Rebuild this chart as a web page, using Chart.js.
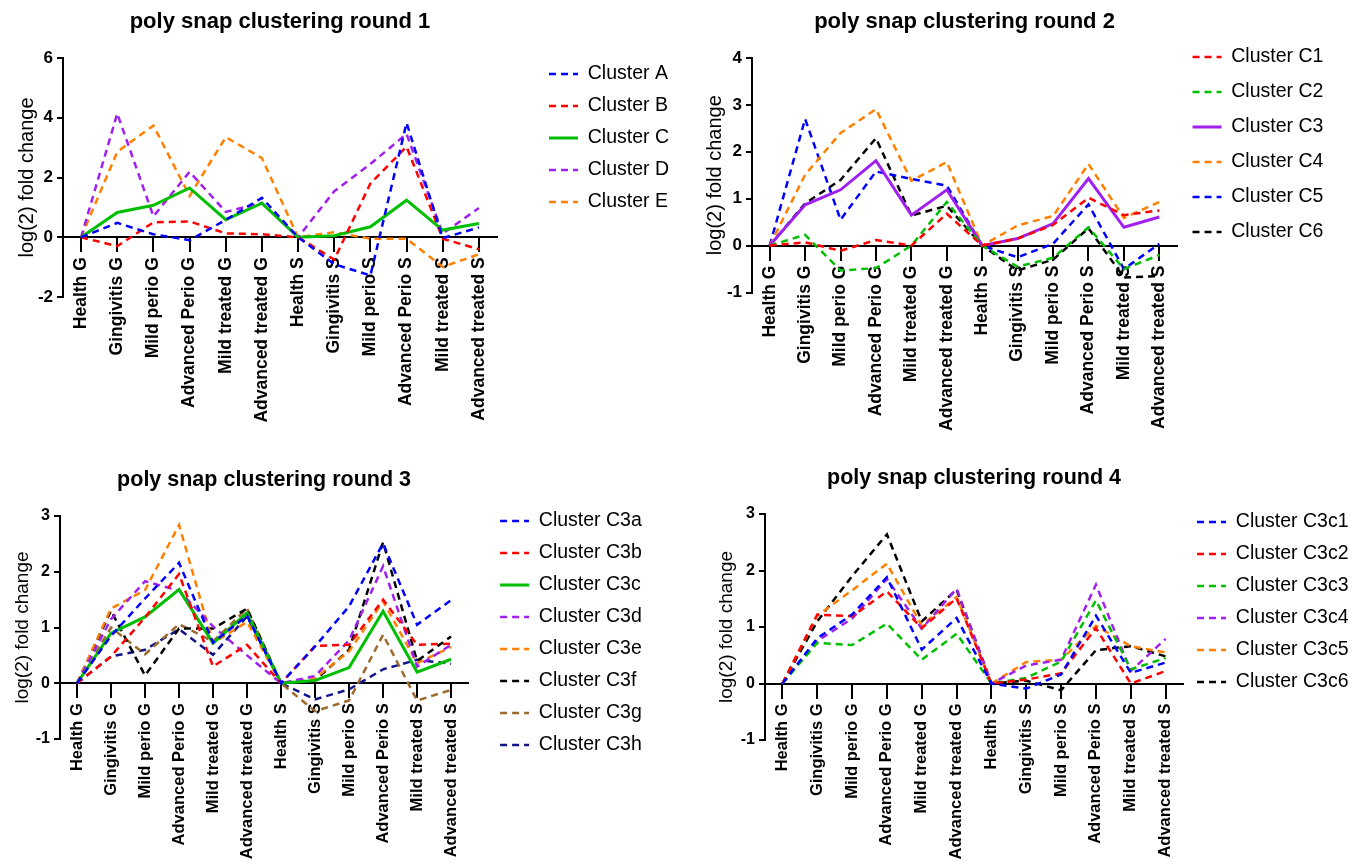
<!DOCTYPE html>
<html>
<head>
<meta charset="utf-8">
<title>poly snap clustering</title>
<script src="https://cdn.jsdelivr.net/npm/chart.js@4.4.1/dist/chart.umd.min.js"></script>
<style>
  html, body { margin: 0; padding: 0; background: #fff; }
  #page { position: relative; width: 1367px; height: 868px; overflow: hidden; }
  .panel { position: absolute; }
</style>
</head>
<body>
<div id="page">
  <div class="panel" style="left:0px;top:0px;width:690px;height:440px"><canvas id="round1"></canvas></div>
  <div class="panel" style="left:690px;top:0px;width:677px;height:440px"><canvas id="round2"></canvas></div>
  <div class="panel" style="left:0px;top:440px;width:690px;height:428px"><canvas id="round3"></canvas></div>
  <div class="panel" style="left:690px;top:440px;width:677px;height:428px"><canvas id="round4"></canvas></div>
</div>
<script>
// --- Data ---
const categories = ['Health G', 'Gingivitis G', 'Mild perio G', 'Advanced Perio G', 'Mild treated G', 'Advanced treated G',
                    'Health S', 'Gingivitis S', 'Mild perio S', 'Advanced Perio S', 'Mild treated S', 'Advanced treated S'];

// round 1
const round1Names = ['Cluster A', 'Cluster B', 'Cluster C', 'Cluster D', 'Cluster E'];
const clusterA = [0, 0.48, 0.1, -0.1, 0.58, 1.32, 0, -0.9, -1.28, 3.83, -0.03, 0.33];
const clusterB = [0, -0.3, 0.5, 0.53, 0.13, 0.1, 0, -0.75, 1.8, 3.03, -0.05, -0.4];
const clusterC = [0, 0.83, 1.07, 1.65, 0.59, 1.14, 0, 0.05, 0.35, 1.24, 0.24, 0.46];
const clusterD = [0, 4.14, 0.7, 2.19, 0.85, 1.15, 0, 1.54, 2.45, 3.46, 0.12, 0.98];
const clusterE = [0, 2.86, 3.74, 1.38, 3.35, 2.65, 0, 0.17, -0.05, -0.05, -0.99, -0.57];

// round 2
const round2Names = ['Cluster C1', 'Cluster C2', 'Cluster C3', 'Cluster C4', 'Cluster C5', 'Cluster C6'];
const clusterC1 = [0, 0.07, -0.11, 0.12, 0, 0.68, 0, 0.15, 0.44, 1.02, 0.65, 0.75];
const clusterC2 = [0, 0.23, -0.53, -0.48, 0, 0.93, 0, -0.45, -0.26, 0.39, -0.5, -0.2];
const clusterC3 = [0, 0.87, 1.19, 1.81, 0.65, 1.19, 0, 0.15, 0.47, 1.43, 0.39, 0.61];
const clusterC4 = [0, 1.51, 2.4, 2.91, 1.38, 1.78, 0, 0.43, 0.63, 1.74, 0.59, 0.93];
const clusterC5 = [0, 2.7, 0.55, 1.58, 1.42, 1.28, 0, -0.25, 0.04, 0.88, -0.5, 0.04];
const clusterC6 = [0, 0.9, 1.4, 2.29, 0.64, 0.85, 0, -0.53, -0.3, 0.37, -0.68, -0.65];

// round 3
const round3Names = ['Cluster C3a', 'Cluster C3b', 'Cluster C3c', 'Cluster C3d', 'Cluster C3e', 'Cluster C3f', 'Cluster C3g', 'Cluster C3h'];
const clusterC3a = [0, 0.85, 1.52, 2.16, 0.73, 1.21, 0, 0.66, 1.38, 2.51, 1.05, 1.49];
const clusterC3b = [0, 0.48, 1.18, 1.96, 0.3, 0.69, 0, 0.67, 0.69, 1.5, 0.69, 0.71];
const clusterC3c = [0, 0.9, 1.19, 1.68, 0.72, 1.26, 0, 0.05, 0.28, 1.29, 0.2, 0.43];
const clusterC3d = [0, 1.15, 1.83, 1.66, 1.02, 0.5, 0, 0.13, 0.77, 2.1, 0.3, 0.69];
const clusterC3e = [0, 1.34, 1.67, 2.84, 0.72, 1.1, 0, 0.09, 0.57, 1.47, 0.36, 0.65];
const clusterC3f = [0, 1.3, 0.14, 0.98, 0.98, 1.34, 0, 0.05, 0.6, 2.53, 0.4, 0.84];
const clusterC3g = [0, 1.0, 0.52, 1.06, 0.75, 1.34, 0, -0.5, -0.31, 0.87, -0.31, -0.12];
const clusterC3h = [0, 0.48, 0.6, 0.97, 0.51, 1.2, 0, -0.29, -0.11, 0.25, 0.42, 0.35];

// round 4
const round4Names = ['Cluster C3c1', 'Cluster C3c2', 'Cluster C3c3', 'Cluster C3c4', 'Cluster C3c5', 'Cluster C3c6'];
const clusterC3c1 = [0, 0.8, 1.22, 1.88, 0.6, 1.16, 0, -0.09, 0.16, 1.2, 0.19, 0.37];
const clusterC3c2 = [0, 1.22, 1.19, 1.63, 0.98, 1.51, 0, 0.07, 0.18, 0.98, 0, 0.22];
const clusterC3c3 = [0, 0.72, 0.68, 1.06, 0.42, 0.88, 0, 0.1, 0.39, 1.47, 0.25, 0.45];
const clusterC3c4 = [0, 0.75, 1.15, 1.85, 0.97, 1.68, 0, 0.32, 0.42, 1.75, 0.22, 0.79];
const clusterC3c5 = [0, 1.2, 1.65, 2.12, 1.03, 1.53, 0, 0.38, 0.42, 1.02, 0.66, 0.55];
const clusterC3c6 = [0, 1.1, 1.9, 2.64, 1.1, 1.66, 0, 0.05, -0.12, 0.59, 0.66, 0.48];

// --- Styles ---
const BLUE = '#0000ff', RED = '#ff0000', GREEN = '#00bf00', PURPLE = '#a020f0',
      ORANGE = '#ff8000', BLACK = '#000000', BROWN = '#9c6a2e', NAVY = '#14148c';

Chart.defaults.font.family = "'Liberation Sans', Arial, sans-serif";
Chart.defaults.color = '#000';

function buildDatasets(names, series, colors, solidIndex) {
    return names.map((name, i) => ({
        label: name,
        data: series[i],
        borderColor: colors[i],
        backgroundColor: colors[i],
        borderWidth: i === solidIndex ? 3 : 2.5,
        borderDash: i === solidIndex ? [] : [7, 5],
        pointRadius: 0,
        pointHoverRadius: 0,
        tension: 0,
        fill: false,
        xAxisID: 'x',
        yAxisID: 'y'
    }));
}

// legend samples: take dash and width from the dataset line, not from the point
function lineLegendLabels(chart) {
    const items = Chart.defaults.plugins.legend.labels.generateLabels(chart);
    items.forEach(item => {
        const ds = chart.data.datasets[item.datasetIndex];
        item.lineDash = ds.borderDash;
        item.lineWidth = ds.borderWidth;
        item.strokeStyle = ds.borderColor;
        item.fillStyle = ds.borderColor;
    });
    return items;
}

function makePanel(id, p) {
    return new Chart(document.getElementById(id), {
        type: 'line',
        data: { labels: categories, datasets: p.datasets },
        options: {
            responsive: true,
            maintainAspectRatio: false,
            animation: false,
            layout: { padding: { top: 0, left: 0, bottom: 0, right: p.padRight } },
            scales: {
                x: {
                    type: 'category',
                    position: { y: 0 },
                    offset: true,
                    grid: { display: true, drawOnChartArea: false, drawTicks: true, tickLength: 14, lineWidth: 2, color: '#000' },
                    border: { display: true, width: 2, color: '#000' },
                    ticks: {
                        autoSkip: false, minRotation: 90, maxRotation: 90, padding: 6,
                        color: '#000', font: { size: p.xFont, weight: 'bold' }
                    }
                },
                // empty box that keeps room for the rotated labels
                xb: {
                    axis: 'x', type: 'linear', position: 'bottom', display: true,
                    grid: { display: false }, border: { display: false }, ticks: { display: false },
                    afterFit: s => { s.height = p.bottomSpace; }
                },
                y: {
                    min: p.yMin, max: p.yMax,
                    grid: { display: true, drawOnChartArea: false, drawTicks: true, tickLength: 6, lineWidth: 2, color: '#000' },
                    border: { display: true, width: 2, color: '#000' },
                    ticks: { stepSize: p.yStep, padding: 4, color: '#000', font: { size: p.yFont, weight: 'bold' } },
                    title: {
                        display: true, text: 'log(2) fold change', color: '#000',
                        font: { size: p.yTitleFont }, padding: { top: p.yTitlePad, bottom: 0 }
                    },
                    afterFit: s => { s.width = p.axisLeft; }
                },
                // empty box between plot and legend
                yr: {
                    axis: 'y', type: 'linear', position: 'right', display: true,
                    grid: { display: false }, border: { display: false }, ticks: { display: false },
                    afterFit: s => { s.width = p.legendGap; }
                }
            },
            plugins: {
                title: {
                    display: true, text: p.title, color: '#000', fullSize: false,
                    font: { size: p.titleFont, weight: 'bold' },
                    padding: { top: p.titlePadTop, bottom: p.titlePadBottom }
                },
                legend: {
                    position: 'right',
                    align: 'start',
                    maxWidth: 400,
                    title: { display: true, text: '', font: { size: 10 }, padding: { top: p.legendTop, bottom: 0 } },
                    labels: {
                        usePointStyle: true,
                        pointStyle: 'line',
                        pointStyleWidth: 29,
                        padding: p.legendPad,
                        color: '#000',
                        font: { size: 19.5 },
                        generateLabels: lineLegendLabels
                    }
                },
                tooltip: { enabled: false }
            }
        }
    });
}

// --- Init ---
makePanel('round1', {
    title: 'poly snap clustering round 1', titleFont: 22, titlePadTop: 8.8, titlePadBottom: 22.8,
    datasets: buildDatasets(round1Names, [clusterA, clusterB, clusterC, clusterD, clusterE],
                            [BLUE, RED, GREEN, PURPLE, ORANGE], 2),
    yMin: -2, yMax: 6, yStep: 2, yFont: 17, yTitleFont: 20, yTitlePad: 15, axisLeft: 63,
    xFont: 17.5, bottomSpace: 143,
    legendGap: 39.5, padRight: 11, legendPad: 12.5, legendTop: 39.75
});

makePanel('round2', {
    title: 'poly snap clustering round 2', titleFont: 22, titlePadTop: 8.8, titlePadBottom: 22.8,
    datasets: buildDatasets(round2Names, [clusterC1, clusterC2, clusterC3, clusterC4, clusterC5, clusterC6],
                            [RED, GREEN, PURPLE, ORANGE, BLUE, BLACK], 2),
    yMin: -1, yMax: 4, yStep: 1, yFont: 17, yTitleFont: 20, yTitlePad: 13, axisLeft: 62,
    xFont: 17.5, bottomSpace: 147.5,
    legendGap: 0, padRight: 33.6, legendPad: 15.5, legendTop: 19.75
});

makePanel('round3', {
    title: 'poly snap clustering round 3', titleFont: 21.5, titlePadTop: 27.1, titlePadBottom: 23.1,
    datasets: buildDatasets(round3Names, [clusterC3a, clusterC3b, clusterC3c, clusterC3d, clusterC3e, clusterC3f, clusterC3g, clusterC3h],
                            [BLUE, RED, GREEN, PURPLE, ORANGE, BLACK, BROWN, NAVY], 2),
    yMin: -1, yMax: 3, yStep: 1, yFont: 16, yTitleFont: 19, yTitlePad: 11.6, axisLeft: 60,
    xFont: 16.5, bottomSpace: 129,
    legendGap: 19.5, padRight: 38.2, legendPad: 12.5, legendTop: 46.75
});

makePanel('round4', {
    title: 'poly snap clustering round 4', titleFont: 21.5, titlePadTop: 25.1, titlePadBottom: 23.1,
    datasets: buildDatasets(round4Names, [clusterC3c1, clusterC3c2, clusterC3c3, clusterC3c4, clusterC3c5, clusterC3c6],
                            [BLUE, RED, GREEN, PURPLE, ORANGE, BLACK], -1),
    yMin: -1, yMax: 3, yStep: 1, yFont: 16, yTitleFont: 19, yTitlePad: 25.6, axisLeft: 75,
    xFont: 16.5, bottomSpace: 128,
    legendGap: 1.5, padRight: 8.5, legendPad: 12.5, legendTop: 47.75
});
</script>
</body>
</html>
